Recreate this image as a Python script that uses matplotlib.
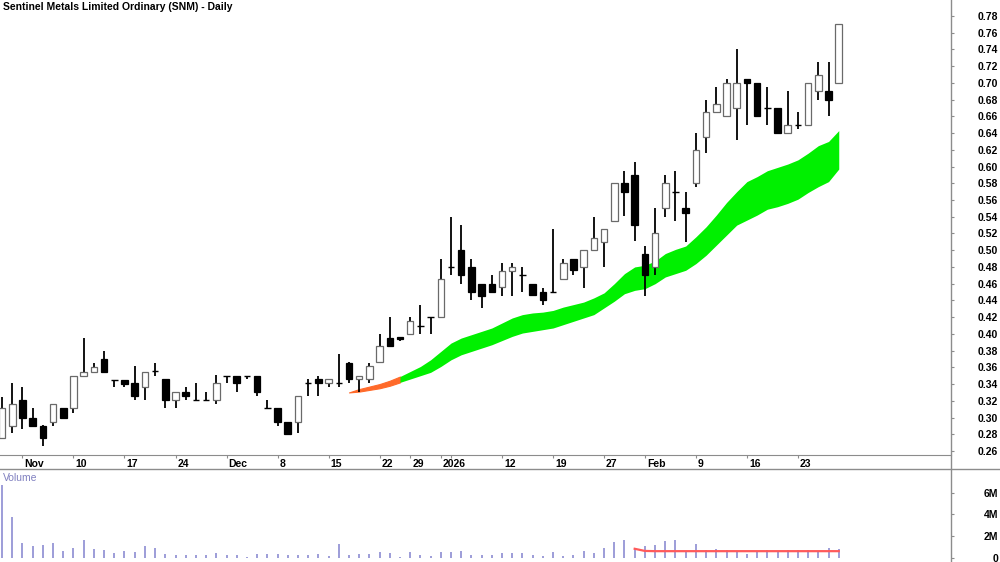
import matplotlib
matplotlib.use("Agg")
import matplotlib.pyplot as plt
import numpy as np
import pandas as pd
from matplotlib.lines import Line2D
from matplotlib.transforms import ScaledTranslation

plt.rcParams['font.family'] = ['Liberation Sans', 'DejaVu Sans']

# trading days, 30 Oct 2025 .. 27 Feb 2026 (ASX holidays left out)
holidays = ['2025-12-25', '2025-12-26', '2026-01-01', '2026-01-26']
dates = [d for d in pd.bdate_range('2025-10-30', '2026-02-27')
         if d.strftime('%Y-%m-%d') not in holidays]

opens = [0.276, 0.290, 0.321, 0.300, 0.290, 0.295, 0.311, 0.311, 0.350, 0.355,
         0.370, 0.345, 0.345, 0.341, 0.336, 0.356, 0.346, 0.321, 0.331, 0.321,
         0.321, 0.321, 0.350, 0.350, 0.350, 0.350, 0.311, 0.311, 0.295, 0.295,
         0.341, 0.346, 0.341, 0.341, 0.365, 0.346, 0.346, 0.366, 0.395, 0.396,
         0.400, 0.410, 0.420, 0.420, 0.480, 0.500, 0.480, 0.460, 0.460, 0.456,
         0.475, 0.470, 0.460, 0.450, 0.450, 0.466, 0.490, 0.480, 0.500, 0.510,
         0.535, 0.580, 0.590, 0.495, 0.480, 0.550, 0.570, 0.550, 0.580, 0.635,
         0.665, 0.660, 0.670, 0.705, 0.700, 0.670, 0.670, 0.640, 0.650, 0.650,
         0.690, 0.690, 0.700]
highs = [0.325, 0.341, 0.336, 0.311, 0.291, 0.316, 0.311, 0.350, 0.395, 0.365,
         0.380, 0.345, 0.345, 0.361, 0.355, 0.365, 0.346, 0.331, 0.336, 0.341,
         0.331, 0.351, 0.350, 0.350, 0.350, 0.350, 0.321, 0.311, 0.295, 0.326,
         0.346, 0.350, 0.346, 0.376, 0.366, 0.350, 0.365, 0.400, 0.420, 0.396,
         0.420, 0.435, 0.420, 0.490, 0.540, 0.530, 0.490, 0.460, 0.470, 0.485,
         0.485, 0.480, 0.460, 0.455, 0.525, 0.490, 0.490, 0.500, 0.540, 0.525,
         0.580, 0.595, 0.605, 0.505, 0.550, 0.590, 0.595, 0.570, 0.640, 0.680,
         0.695, 0.705, 0.740, 0.705, 0.700, 0.695, 0.670, 0.690, 0.665, 0.700,
         0.725, 0.725, 0.770]
lows = [0.276, 0.281, 0.286, 0.289, 0.266, 0.290, 0.300, 0.306, 0.350, 0.355,
        0.355, 0.336, 0.336, 0.321, 0.321, 0.350, 0.311, 0.311, 0.321, 0.321,
        0.321, 0.316, 0.341, 0.331, 0.346, 0.326, 0.311, 0.290, 0.280, 0.281,
        0.326, 0.326, 0.336, 0.336, 0.341, 0.331, 0.341, 0.366, 0.385, 0.391,
        0.400, 0.400, 0.400, 0.420, 0.470, 0.460, 0.440, 0.431, 0.450, 0.445,
        0.445, 0.450, 0.446, 0.435, 0.450, 0.466, 0.470, 0.455, 0.500, 0.480,
        0.535, 0.541, 0.511, 0.445, 0.470, 0.540, 0.535, 0.510, 0.576, 0.616,
        0.665, 0.660, 0.632, 0.650, 0.660, 0.650, 0.640, 0.640, 0.645, 0.650,
        0.680, 0.660, 0.700]
closes = [0.311, 0.316, 0.300, 0.290, 0.275, 0.316, 0.300, 0.350, 0.355, 0.360,
          0.355, 0.345, 0.340, 0.326, 0.355, 0.356, 0.321, 0.331, 0.326, 0.321,
          0.321, 0.341, 0.350, 0.341, 0.350, 0.331, 0.311, 0.295, 0.280, 0.326,
          0.341, 0.341, 0.346, 0.341, 0.346, 0.350, 0.361, 0.386, 0.386, 0.394,
          0.415, 0.410, 0.420, 0.466, 0.480, 0.470, 0.450, 0.445, 0.450, 0.475,
          0.480, 0.470, 0.446, 0.440, 0.450, 0.485, 0.476, 0.500, 0.515, 0.525,
          0.580, 0.570, 0.530, 0.470, 0.520, 0.580, 0.570, 0.545, 0.620, 0.665,
          0.675, 0.700, 0.700, 0.700, 0.660, 0.670, 0.640, 0.650, 0.650, 0.700,
          0.710, 0.680, 0.770]

# volume in millions
volume = [6.7, 3.75, 1.35, 1.05, 1.17, 1.35, 0.6, 0.9, 1.6, 0.8,
          0.75, 0.45, 0.6, 0.5, 1.05, 0.85, 0.35, 0.2, 0.2, 0.25,
          0.2, 0.45, 0.2, 0.28, 0.05, 0.3, 0.3, 0.35, 0.2, 0.28,
          0.28, 0.3, 0.12, 1.3, 0.2, 0.3, 0.37, 0.5, 0.45, 0.05,
          0.5, 0.2, 0.12, 0.52, 0.5, 0.6, 0.25, 0.2, 0.2, 0.43,
          0.43, 0.43, 0.25, 0.12, 0.52, 0.12, 0.25, 0.6, 0.43, 0.86,
          1.45, 1.6, 0.9, 1.08, 1.14, 1.5, 1.66, 0.55, 1.23, 0.74,
          0.8, 0.68, 0.52, 0.3, 0.52, 0.68, 0.52, 0.68, 0.68, 0.68,
          0.52, 0.86, 0.77]
vol_avg_start = 62
vol_avg = [0.82, 0.62, 0.6, 0.6, 0.6, 0.6, 0.6, 0.6, 0.6, 0.6, 0.6,
           0.6, 0.6, 0.6, 0.6, 0.6, 0.6, 0.6, 0.6, 0.6, 0.6]

# trend band, starts at bar 34
band_start = 34
band_switch = 39   # orange -> green
band_upper = [0.330, 0.334, 0.337, 0.340, 0.344, 0.349, 0.355, 0.361, 0.369, 0.379,
              0.389, 0.395, 0.399, 0.403, 0.407, 0.413, 0.419, 0.423, 0.425, 0.426,
              0.428, 0.432, 0.435, 0.438, 0.443, 0.449, 0.460, 0.472, 0.480, 0.482,
              0.487, 0.496, 0.501, 0.505, 0.516, 0.528, 0.542, 0.557, 0.570, 0.582,
              0.588, 0.595, 0.599, 0.603, 0.608, 0.616, 0.625, 0.630, 0.643]
band_lower = [0.330, 0.331, 0.333, 0.335, 0.338, 0.342, 0.346, 0.350, 0.354, 0.361,
              0.369, 0.375, 0.379, 0.383, 0.387, 0.392, 0.397, 0.401, 0.403, 0.405,
              0.407, 0.411, 0.415, 0.419, 0.423, 0.431, 0.439, 0.448, 0.452, 0.454,
              0.460, 0.468, 0.472, 0.476, 0.484, 0.494, 0.506, 0.518, 0.530, 0.536,
              0.542, 0.549, 0.552, 0.556, 0.561, 0.569, 0.576, 0.582, 0.597]

tick_dates = ['2025-11-03', '2025-11-10', '2025-11-17', '2025-11-24', '2025-12-01',
              '2025-12-08', '2025-12-15', '2025-12-22', '2025-12-29', '2026-01-02',
              '2026-01-05', '2026-01-12', '2026-01-19', '2026-01-27', '2026-02-02',
              '2026-02-09', '2026-02-16', '2026-02-23']
tick_labels = ['Nov', '10', '17', '24', 'Dec', '8', '15', '22', '29', '2026',
               '', '12', '19', '27', 'Feb', '9', '16', '23']

x = np.arange(len(dates))
o, h, l, c = map(np.array, (opens, highs, lows, closes))
date_idx = {d.strftime('%Y-%m-%d'): i for i, d in enumerate(dates)}

fig = plt.figure(figsize=(10, 5.62), dpi=100)
ax = fig.add_axes([0, 107 / 562, 0.951, 455 / 562])
axv = fig.add_axes([0, 0, 0.951, 93 / 562])

grey = '#8c8c8c'

# band
bx = x[band_start:band_start + len(band_upper)]
bu, bl = np.array(band_upper), np.array(band_lower)
k = band_switch - band_start
ax.fill_between(bx[:k + 1], bl[:k + 1], bu[:k + 1], color='#ff6a2a', lw=0.8, ec='#ff6a2a', zorder=1)
ax.fill_between(bx[k:], bl[k:], bu[k:], color='#00f000', lw=0, zorder=1)

# candles
bw = 0.64
ax.vlines(x, l, h, color='black', lw=1.3, zorder=2)
up = c > o
dn = c < o
eq = c == o
ax.bar(x[up], (c - o)[up], bw, bottom=o[up], facecolor='white', edgecolor='#6a6a6a', lw=0.9, zorder=3)
ax.bar(x[dn], (o - c)[dn], bw, bottom=c[dn], facecolor='black', edgecolor='black', lw=0.9, zorder=3)
ax.hlines(o[eq], x[eq] - bw / 2, x[eq] + bw / 2, color='black', lw=1.0, zorder=3)

ax.set_xlim(-0.2, 93)
ax.set_ylim(0.2552, 0.7991)
ax.yaxis.tick_right()
ax.set_yticks(np.arange(0.26, 0.781, 0.02))
ax.set_yticklabels([f'{v:.2f}' for v in np.arange(0.26, 0.781, 0.02)])
ax.tick_params(axis='y', length=2.5, color=grey, pad=31.5, labelsize=7.5)
for t in ax.get_yticklabels():
    t.set_ha('right')
    t.set_fontweight('bold')

ax.set_xticks([date_idx[d] for d in tick_dates])
ax.set_xticklabels(tick_labels)
ax.tick_params(axis='x', length=2, color=grey, pad=1, labelsize=7.5)
shift = ScaledTranslation(2 / 100, 0, fig.dpi_scale_trans)
for t in ax.get_xticklabels():
    t.set_ha('left')
    t.set_fontweight('bold')
    t.set_transform(t.get_transform() + shift)

for s in ['top', 'left', 'right']:
    ax.spines[s].set_visible(False)
ax.spines['bottom'].set_color(grey)

ax.text(0.003, 0.995, 'Sentinel Metals Limited Ordinary (SNM) - Daily', transform=ax.transAxes,
        ha='left', va='top', fontsize=7.5, fontweight='bold')

# volume
axv.vlines(x, 0, volume, color='#8c8cd2', lw=1.2)
xa = x[vol_avg_start:vol_avg_start + len(vol_avg)]
axv.plot(xa, vol_avg, color='#ff5a5a', lw=1.6)
axv.set_xlim(-0.2, 93)
axv.set_ylim(-0.40, 8.18)
axv.set_xticks([])
axv.yaxis.tick_right()
axv.set_yticks([0, 2, 4, 6])
axv.set_yticklabels(['0', '2M', '4M', '6M'])
axv.tick_params(axis='y', length=2.5, color=grey, pad=31.5, labelsize=7.5)
for t in axv.get_yticklabels():
    t.set_ha('right')
    t.set_fontweight('bold')
for s in ['top', 'left', 'right', 'bottom']:
    axv.spines[s].set_visible(False)
axv.text(0.003, 0.96, 'Volume', transform=axv.transAxes, ha='left', va='top',
         fontsize=7.5, color='#8080c0')

# frame lines
fig.add_artist(Line2D([0, 1], [93 / 562, 93 / 562], color=grey, lw=1))
fig.add_artist(Line2D([0.951, 0.951], [0, 1], color=grey, lw=1))

fig.savefig('out.png', dpi=100)
